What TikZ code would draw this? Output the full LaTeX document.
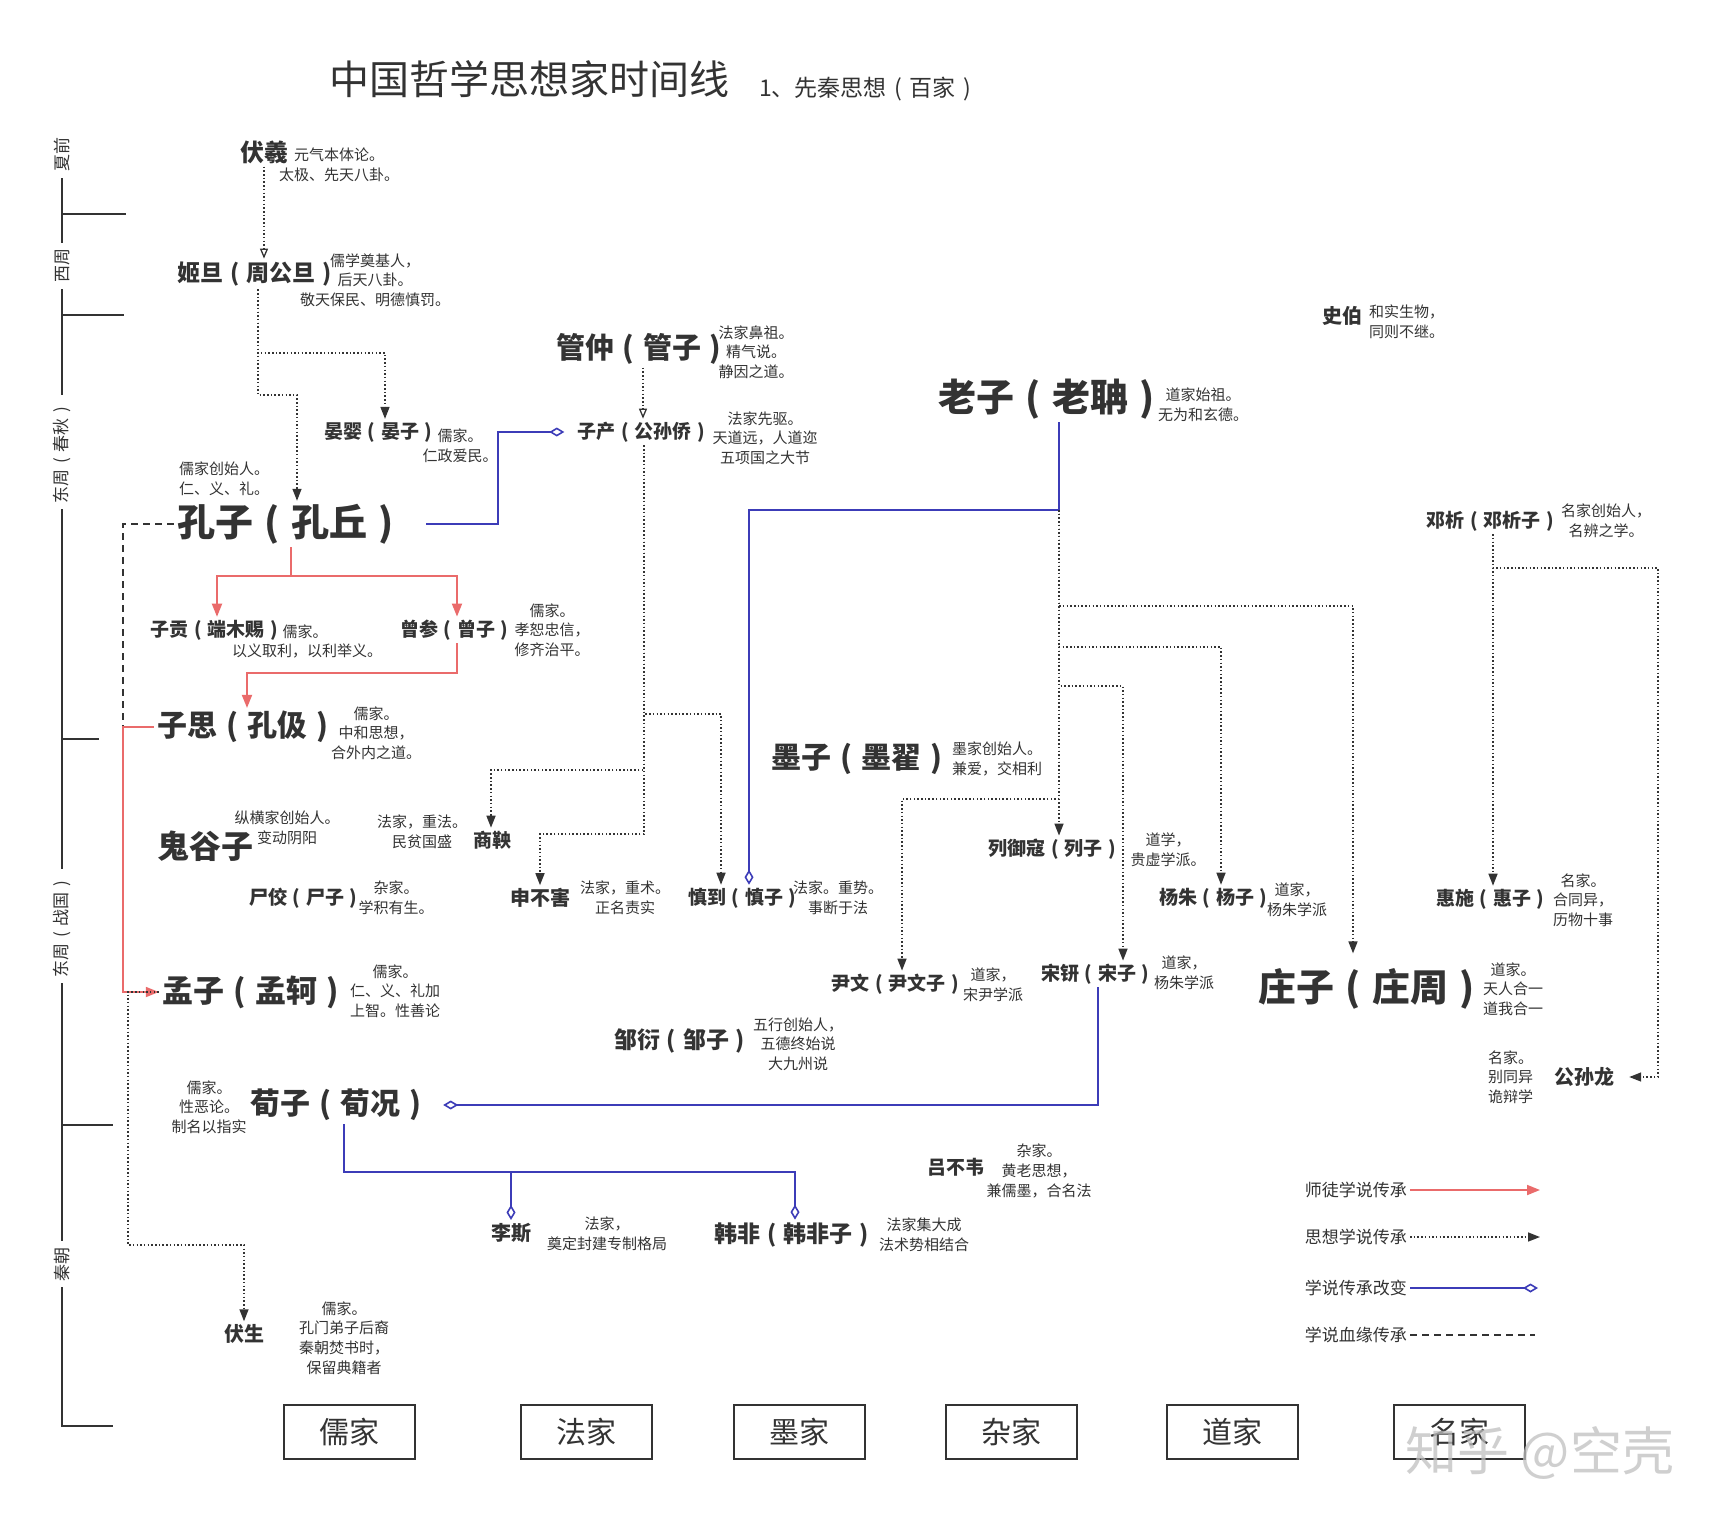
\documentclass[tikz,border=0pt]{standalone}
\usepackage{fontspec}
\setmainfont{Noto Sans CJK SC}
\usetikzlibrary{arrows.meta,calc}
\definecolor{txt}{HTML}{333333}
\definecolor{redc}{HTML}{EA6B6B}
\definecolor{bluec}{HTML}{3C3CB8}
\definecolor{linec}{HTML}{333333}
\newcommand{\zlp}{\makebox[1em][c]{(}}
\newcommand{\zrp}{\makebox[1em][c]{)}}
\begin{document}
\begin{tikzpicture}[x=1pt,y=-1pt,
  pn/.style={font=\bfseries\fontsize{#1}{#1}\selectfont, inner sep=3pt, text=txt},
  ds/.style={font=\fontsize{15}{19.7}\selectfont, align=center, inner sep=0pt, text=txt},
  dsl/.style={font=\fontsize{15}{19.7}\selectfont, align=left, inner sep=0pt, text=txt, anchor=west},
  dotarrow/.style={draw=linec, line width=1.5pt, dash pattern=on 1.5pt off 2.2pt, -{Triangle[length=12pt,width=9pt]}},
  dotopen/.style={draw=linec, line width=1.5pt, dash pattern=on 1.5pt off 2.2pt, -{Triangle[open,length=10pt,width=8pt,line width=1.3pt]}},
  redarrow/.style={draw=redc, line width=1.8pt, -{Triangle[length=13pt,width=10pt]}},
  blueline/.style={draw=bluec, line width=1.8pt, -{Diamond[open,length=15pt,width=9pt,line width=1.6pt]}},
  dashline/.style={draw=linec, line width=1.6pt, dash pattern=on 7pt off 5pt},
  tl/.style={draw=linec, line width=2pt},
  era/.style={font=\fontsize{17}{17}\selectfont, rotate=90, text=txt, inner sep=6pt},
  school/.style={draw=linec, line width=2pt, minimum width=131pt, minimum height=54pt, font=\fontsize{30}{30}\selectfont, text=txt, inner sep=0pt},
  lgd/.style={font=\fontsize{17}{17}\selectfont, text=txt, inner sep=3pt, anchor=east},
]
\fill[white] (0,0) rectangle (1720,1522);
\useasboundingbox (0,0) rectangle (1720,1522);

% title
\node[font=\fontsize{40}{40}\selectfont, text=txt, anchor=west, inner sep=0pt] (title) at (329,79) {中国哲学思想家时间线};
\node[font=\fontsize{23}{23}\selectfont, text=txt, anchor=west, inner sep=0pt] (subtitle) at (759,89) {1、先秦思想\zlp 百家\zrp};

% timeline
\node[era] (e1) at (62,155) {夏前};
\node[era] (e2) at (62,266) {西周};
\node[era] (e3) at (62,452) {东周\zlp 春秋\zrp};
\node[era] (e4) at (62,926) {东周\zlp 战国\zrp};
\node[era] (e5) at (62,1264) {秦朝};
\draw[tl] (e1.west) -- (e2.east);
\draw[tl] (e2.west) -- (e3.east);
\draw[tl] (e3.west) -- (e4.east);
\draw[tl] (e4.west) -- (e5.east);
\coordinate (tend) at (62,1426);
\draw[tl] (e5.west) -- (tend) -- ++(51,0);
\draw[tl] (62,214) -- (126,214);
\draw[tl] (62,315) -- (124,315);
\draw[tl] (62,739) -- (99,739);
\draw[tl] (62,1125) -- (113,1125);

% people
\node[pn=24] (fuxi) at (264,152) {伏羲};
\node[pn=23] (jidan) at (258,274) {姬旦\zlp 周公旦\zrp};
\node[pn=29] (guanzhong) at (643,349) {管仲\zlp 管子\zrp};
\node[pn=19] (yanying) at (381,432) {晏婴\zlp 晏子\zrp};
\node[pn=19] (zichan) at (644,432) {子产\zlp 公孙侨\zrp};
\node[pn=38] (laozi) at (1052,399) {老子\zlp 老聃\zrp};
\node[pn=20] (shibo) at (1342,316) {史伯};
\node[pn=38] (kongzi) at (291,524) {孔子\zlp 孔丘\zrp};
\node[pn=19] (zigong) at (217,630) {子贡\zlp 端木赐\zrp};
\node[pn=19] (zengshen) at (457,630) {曾参\zlp 曾子\zrp};
\node[pn=30] (zisi) at (247,727) {子思\zlp 孔伋\zrp};
\node[pn=30] (mozi) at (861,759) {墨子\zlp 墨翟\zrp};
\node[pn=32] (guiguzi) at (205,846) {鬼谷子};
\node[pn=19] (shangyang) at (492,840) {商鞅};
\node[pn=19] (shijiao) at (306,898) {尸佼\zlp 尸子\zrp};
\node[pn=20] (shenbuhai) at (540,898) {申不害};
\node[pn=19] (shendao) at (745,898) {慎到\zlp 慎子\zrp};
\node[pn=19] (lieyukou) at (1055,849) {列御寇\zlp 列子\zrp};
\node[pn=19] (yangzhu) at (1216,898) {杨朱\zlp 杨子\zrp};
\node[pn=19] (huishi) at (1493,899) {惠施\zlp 惠子\zrp};
\node[pn=19] (dengxi) at (1493,521) {邓析\zlp 邓析子\zrp};
\node[pn=19] (yinwen) at (898,984) {尹文\zlp 尹文子\zrp};
\node[pn=19] (songxing) at (1098,974) {宋钘\zlp 宋子\zrp};
\node[pn=38] (zhuangzi) at (1372,989) {庄子\zlp 庄周\zrp};
\node[pn=31] (mengzi) at (255,992) {孟子\zlp 孟轲\zrp};
\node[pn=23] (zouyan) at (683,1041) {邹衍\zlp 邹子\zrp};
\node[pn=30] (xunzi) at (340,1105) {荀子\zlp 荀况\zrp};
\node[pn=20] (lisi) at (511,1233) {李斯};
\node[pn=23] (hanfei) at (795,1235) {韩非\zlp 韩非子\zrp};
\node[pn=19] (lvbuwei) at (956,1167) {吕不韦};
\node[pn=20] (fusheng) at (244,1334) {伏生};
\node[pn=20] (gongsunlong) at (1584,1077) {公孙龙};

% descriptions
\node[ds] (fuxid) at (339,165) {元气本体论。\\太极、先天八卦。};
\node[ds] (jidand) at (375,280) {儒学奠基人，\\后天八卦。\\敬天保民、明德慎罚。};
\node[ds] (guanzhongd) at (756,352) {法家鼻祖。\\精气说。\\静因之道。};
\node[ds] (yanyingd) at (460,446) {儒家。\\仁政爱民。};
\node[ds] (zichand) at (765,438) {法家先驱。\\天道远，人道迩\\五项国之大节};
\node[ds] (laozid) at (1203,405) {道家始祖。\\无为和玄德。};
\node[dsl] (shibod) at (1369,322) {和实生物，\\同则不继。};
\node[dsl] (kongzid) at (179,479) {儒家创始人。\\仁、义、礼。};
\node[ds] (zigongd1) at (305,632) {儒家。};
\node[ds] (zigongd2) at (307,651) {以义取利，以利举义。};
\node[ds] (zengshend) at (552,630) {儒家。\\孝恕忠信，\\修齐治平。};
\node[ds] (zisid) at (376,733) {儒家。\\中和思想，\\合外内之道。};
\node[dsl] (mozid) at (952,759) {墨家创始人。\\兼爱，交相利};
\node[ds] (guiguzid) at (287,828) {纵横家创始人。\\变动阴阳};
\node[ds] (shangyangd) at (422,832) {法家，重法。\\民贫国盛};
\node[ds] (shijiaod) at (396,898) {杂家。\\学积有生。};
\node[ds] (shenbuhaid) at (625,898) {法家，重术。\\正名责实};
\node[ds] (shendaod) at (838,898) {法家。重势。\\事断于法};
\node[ds] (lieyukoud) at (1168,850) {道学，\\贵虚学派。};
\node[ds] (yangzhud) at (1297,900) {道家，\\杨朱学派};
\node[ds] (huishid) at (1583,900) {名家。\\合同异，\\历物十事};
\node[ds] (dengxid) at (1606,521) {名家创始人，\\名辨之学。};
\node[ds] (yinwend) at (993,985) {道家，\\宋尹学派};
\node[ds] (songxingd) at (1184,973) {道家，\\杨朱学派};
\node[ds] (zhuangzid) at (1513,989) {道家。\\天人合一\\道我合一};
\node[ds] (mengzid) at (395,991) {儒家。\\仁、义、礼加\\上智。性善论};
\node[ds] (zouyand) at (798,1044) {五行创始人，\\五德终始说\\大九州说};
\node[ds] (xunzid) at (209,1107) {儒家。\\性恶论。\\制名以指实};
\node[ds] (lisid) at (607,1234) {法家，\\奠定封建专制格局};
\node[ds] (hanfeid) at (924,1235) {法家集大成\\法术势相结合};
\node[ds] (lvbuweid) at (1039,1171) {杂家。\\黄老思想，\\兼儒墨，合名法};
\node[ds] (fushengd) at (344,1338) {儒家。\\孔门弟子后裔\\秦朝焚书时，\\保留典籍者};
\node[dsl] (gongsunlongd) at (1488,1077) {名家。\\别同异\\诡辩学};

% corner coordinates
\coordinate (c1) at (297,395);
\coordinate (c2) at (385,353);
\coordinate (c3) at (721,714);
\coordinate (c4) at (491,770);
\coordinate (c5) at (540,834);
\coordinate (c6) at (498,524);
\coordinate (c7) at (291,576);
\coordinate (c8) at (457,673);
\coordinate (c9) at (123,727);
\coordinate (c10) at (128,1245);
\coordinate (lzj) at (1059,510);
\coordinate (c11) at (749,510);
\coordinate (c12) at (1353,606);
\coordinate (c13) at (1221,647);
\coordinate (c14) at (1123,686);
\coordinate (c15) at (902,799);
\coordinate (c17) at (344,1172);
\coordinate (c18) at (1658,568);

% connectors
\draw[dotopen] (fuxi.south) -- (fuxi.south |- jidan.north);
\draw[dotarrow] (jidan.south) |- (c1) -- (kongzi.north -| c1);
\draw[dotarrow] (jidan.south) |- (c2) -- (yanying.north -| c2);
\draw[dotopen] (guanzhong.south) -- (guanzhong.south |- zichan.north);
\draw[dotarrow] (zichan.south) |- (c3) -- (shendao.north -| c3);
\draw[dotarrow] (zichan.south) |- (c4) -- (shangyang.north -| c4);
\draw[dotarrow] (zichan.south) |- (c5) -- (shenbuhai.north -| c5);
\draw[blueline, shorten <=18pt, shorten >=10pt] (kongzi.east) -- (c6) |- (zichan.west);
\draw[redarrow] (kongzi.south) -- (c7) -| (zigong.north);
\draw[redarrow] (kongzi.south) -- (c7) -| (zengshen.north);
\draw[redarrow] (zengshen.south) -- (c8) -| (zisi.north);
\draw[dashline] (kongzi.west) -| (c9);
\draw[redarrow] (zisi.west) -- (c9) |- (mengzi.west);
\draw[dotarrow] (mengzi.west) -| (c10) -| (fusheng.north);
\draw[blueline] (laozi.south -| lzj) -- (lzj) -- (c11) -- (shendao.north -| c11);
\draw[dotarrow] (lzj) -- (lieyukou.north -| lzj);
\draw[dotarrow, shorten >=12pt] (lzj) |- (c12) -- (zhuangzi.north -| c12);
\draw[dotarrow] (lzj) |- (c13) -- (yangzhu.north -| c13);
\draw[dotarrow] (lzj) |- (c14) -- (songxing.north -| c14);
\draw[dotarrow] (lzj) |- (c15) -- (yinwen.north -| c15);
\draw[blueline, shorten >=10pt] (songxing.south) |- (xunzi.east);
\draw[blueline] (xunzi.south -| c17) -- (c17) -| (lisi.north);
\draw[blueline] (xunzi.south -| c17) -- (c17) -| (hanfei.north);
\draw[dotarrow] (dengxi.south) -- (huishi.north);
\draw[dotarrow, shorten >=12pt] (dengxi.south) |- (c18) |- (gongsunlong.east);

% legend
\node[lgd] (lg1) at (1410,1190) {师徒学说传承};
\node[lgd] (lg2) at (1410,1237) {思想学说传承};
\node[lgd] (lg3) at (1410,1288) {学说传承改变};
\node[lgd] (lg4) at (1410,1335) {学说血缘传承};
\coordinate (lg1e) at (1540,1190);
\coordinate (lg2e) at (1540,1237);
\coordinate (lg3e) at (1538,1288);
\coordinate (lg4e) at (1535,1335);
\draw[redarrow] (lg1.east) -- (lg1e);
\draw[dotarrow] (lg2.east) -- (lg2e);
\draw[blueline] (lg3.east) -- (lg3e);
\draw[dashline] (lg4.east) -- (lg4e);

% schools
\node[school] (s1) at (349,1432) {儒家};
\node[school] (s2) at (586,1432) {法家};
\node[school] (s3) at (799,1432) {墨家};
\node[school] (s4) at (1011,1432) {杂家};
\node[school] (s5) at (1232,1432) {道家};
\node[school] (s6) at (1459,1432) {名家};

% watermark
\node[font=\fontsize{52}{52}\selectfont, text=gray!50, opacity=0.75, anchor=west, inner sep=0pt] (wm) at (1405,1453) {知乎 @空壳};
\end{tikzpicture}
\end{document}
